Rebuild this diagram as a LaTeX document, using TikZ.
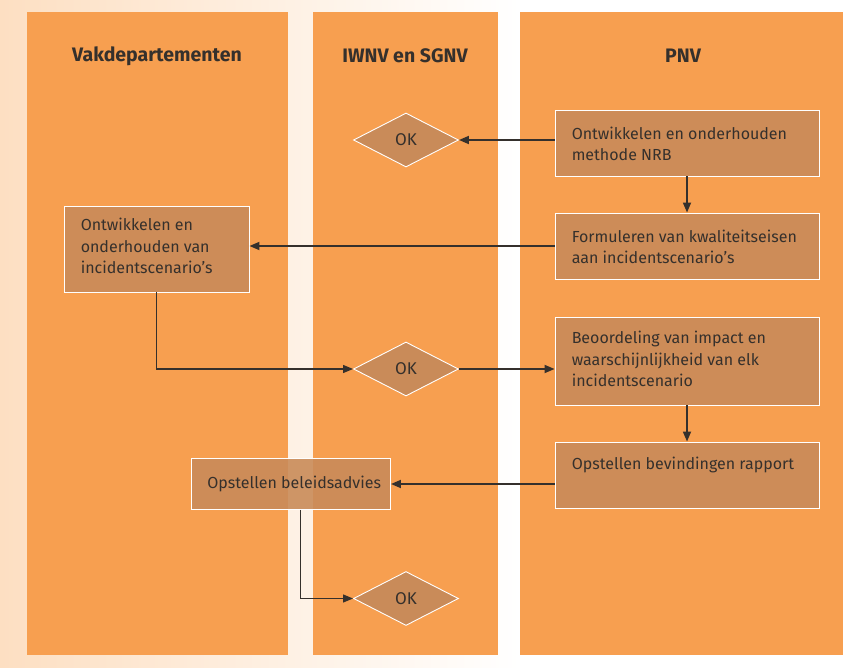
\documentclass[tikz,border=0pt]{standalone}
\usepackage{fontspec}
\setmainfont{Fira Sans}
\usetikzlibrary{shapes.geometric,arrows.meta,calc}
\definecolor{lane}{HTML}{F79F50}
\definecolor{boxfill}{HTML}{C98B59}
\definecolor{ink}{HTML}{35302C}
\definecolor{peach}{HTML}{FDDFC2}
\tikzset{
  lanebox/.style={fill=lane, draw=none},
  header/.style={font=\bfseries\fontsize{19.5}{22}\selectfont, text=ink},
  stepbox/.style={draw=white, line width=0.9pt, fill=boxfill, fill opacity=0.9, inner sep=0pt},
  steptext/.style={anchor=north west, align=left, inner sep=0pt, text=ink,
    font=\fontsize{16}{21.5}\selectfont},
  okdiamond/.style={diamond, draw=white, line width=0.9pt, fill=boxfill, inner sep=0pt,
    minimum width=105pt, minimum height=54pt, text=ink, font=\fontsize{17}{20}\selectfont},
  flow/.style={draw=ink, line width=1.7pt, -{Triangle[length=10pt,width=8pt]}},
  thinflow/.style={draw=ink, line width=1.1pt, -{Triangle[length=10pt,width=8pt]}}
}
\begin{document}
\begin{tikzpicture}[x=1pt,y=-1pt]
\useasboundingbox (0,0) rectangle (843,668);
% page background
\shade[left color=peach, right color=white] (0,0) rectangle (520,668);
\fill[white] (520,0) rectangle (843,668);
% swim lanes
\fill[lanebox] (27,12) rectangle (288,655);
\fill[lanebox] (313,12) rectangle (498,655);
\fill[lanebox] (520,12) rectangle (843,655);
% lane titles
\node[header] (h1) at (157,56) {Vakdepartementen};
\node[header] (h2) at (405,56) {IWNV en SGNV};
\node[header] (h3) at (683,56) {PNV};
% process steps
\node[stepbox, minimum width=264pt, minimum height=66pt] (b1) at (687,143) {};
\node[steptext] (t1) at ($(b1.north west)+(17,17)$) {Ontwikkelen en onderhouden\\methode NRB};
\node[stepbox, minimum width=264pt, minimum height=66pt] (b2) at (687,246) {};
\node[steptext] (t2) at ($(b2.north west)+(17,17)$) {Formuleren van kwaliteitseisen\\aan incidentscenario's};
\node[stepbox, minimum width=185pt, minimum height=86pt] (b3) at (156.5,249) {};
\node[steptext] (t3) at ($(b3.north west)+(17,12.5)$) {Ontwikkelen en\\onderhouden van\\incidentscenario's};
\node[stepbox, minimum width=264pt, minimum height=88pt] (b4) at (687,361) {};
\node[steptext] (t4) at ($(b4.north west)+(17,14.5)$) {Beoordeling van impact en\\waarschijnlijkheid van elk\\incidentscenario};
\node[stepbox, minimum width=264pt, minimum height=66pt] (b5) at (687,475) {};
\node[steptext] (t5) at ($(b5.north west)+(17,15.5)$) {Opstellen bevindingen rapport};
\node[stepbox, minimum width=199pt, minimum height=51pt] (b6) at (291,484) {};
\node[steptext, anchor=west] (t6) at ($(b6.west)+(16,0)$) {Opstellen beleidsadvies};
% decisions
\node[okdiamond] (d1) at (406,140) {OK};
\node[okdiamond] (d2) at (406,369) {OK};
\node[okdiamond] (d3) at (406,598.5) {OK};
% connectors
\coordinate (b6out) at ([xshift=9.5pt]b6.south);
\draw[flow] (b1.west |- d1.east) -- (d1.east);
\draw[flow] (b1.south) -- (b2.north);
\draw[flow] (b2.west) -- (b2.west -| b3.east);
\draw[thinflow] (b3.south) |- (d2.west);
\draw[flow] (d2.east) -- (d2.east -| b4.west);
\draw[flow] (b4.south) -- (b5.north);
\draw[flow] (b5.west |- b6.east) -- (b6.east);
\draw[thinflow] (b6out) |- (d3.west);
\end{tikzpicture}
\end{document}
